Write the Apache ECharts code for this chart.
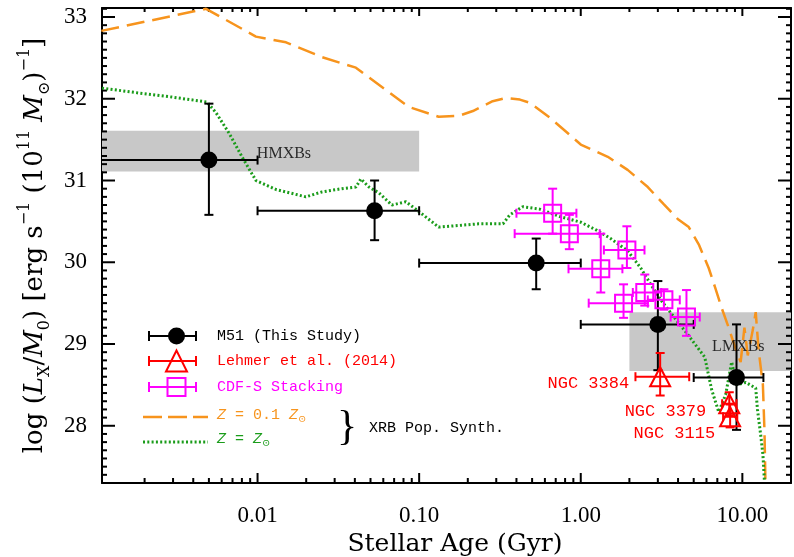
<!DOCTYPE html>
<html>
<head>
<meta charset="utf-8">
<script src="https://cdn.jsdelivr.net/npm/echarts@6/dist/echarts.min.js"></script>
<style>
html, body { margin: 0; padding: 0; background: #fff; }
#chart { width: 794px; height: 557px; }
</style>
</head>
<body>
<div id="chart"></div>
<script>
// ---------- axis ranges and tick labels ----------
const ageRange = [0.00109, 20];          // Gyr
const lumRange = [27.3, 33.11];          // log(Lx/M0)
const xTickValues = [0.01, 0.1, 1, 10];
const xTickLabels = ['0.01', '0.10', '1.00', '10.00'];
const yTickValues = [28, 29, 30, 31, 32, 33];
const yTickLabels = ['28', '29', '30', '31', '32', '33'];

// ---------- M51 (this study) ----------
const m51Age   = [0.005, 0.053, 0.53, 3.0, 9.2];
const m51AgeLo = [0.001, 0.01, 0.1, 1.0, 5.0];
const m51AgeHi = [0.01, 0.1, 1.0, 5.0, 13.5];
const m51Lum   = [31.25, 30.63, 29.99, 29.24, 28.59];
const m51LumLo = [30.58, 30.27, 29.67, 28.68, 27.95];
const m51LumHi = [31.94, 31.00, 30.29, 29.77, 29.24];

// ---------- Lehmer et al. (2014) ellipticals ----------
const lehmerNames = ['NGC 3384', 'NGC 3379', 'NGC 3115'];
const lehmerAge   = [3.1, 8.3, 8.4];
const lehmerAgeLo = [2.18, 7.5, 7.6];
const lehmerAgeHi = [4.69, 9.2, 9.3];
const lehmerLum   = [28.60, 28.27, 28.11];
const lehmerLumLo = [28.37, 28.13, 27.98];
const lehmerLumHi = [28.89, 28.41, 28.26];

// ---------- CDF-S stacking ----------
const cdfsAge   = [0.67, 0.85, 1.93, 1.33, 1.84, 2.49, 3.27, 4.51];
const cdfsAgeLo = [0.40, 0.39, 1.39, 0.84, 1.12, 2.10, 2.60, 3.60];
const cdfsAgeHi = [0.94, 1.31, 2.48, 1.81, 2.60, 3.15, 4.10, 5.45];
const cdfsLum   = [30.60, 30.35, 30.15, 29.92, 29.50, 29.63, 29.54, 29.33];
const cdfsLumLo = [30.35, 30.16, 29.93, 29.63, 29.32, 29.47, 29.42, 29.10];
const cdfsLumHi = [30.90, 30.58, 30.44, 30.35, 29.73, 29.85, 29.67, 29.66];

// ---------- XRB population synthesis tracks ----------
const lowZAge = [0.00108, 0.0048, 0.00977, 0.015, 0.025, 0.0406, 0.065, 0.0863, 0.132, 0.176,
                 0.215, 0.285, 0.344, 0.42, 0.484, 0.643, 0.819, 1.0, 1.47, 1.95,
                 2.6, 3.26, 3.98, 4.66, 5.37, 6.19, 6.79, 7.45, 8.23, 9.09,
                 9.76, 10.3, 10.8, 11.6, 12.1, 12.6, 13.4, 13.7, 13.9];
const lowZLum = [32.83, 33.1, 32.76, 32.69, 32.51, 32.38, 32.08, 31.9, 31.78, 31.79,
                 31.85, 31.97, 32.01, 31.99, 31.95, 31.77, 31.59, 31.44, 31.29, 31.13,
                 30.92, 30.71, 30.53, 30.43, 30.22, 29.93, 29.69, 29.44, 29.2, 28.94,
                 28.78, 29.2, 28.86, 29.17, 29.39, 28.93, 28.5, 27.95, 27.3];
const solarZAge = [0.00109, 0.00185, 0.00296, 0.00486, 0.00553, 0.00666, 0.00801, 0.00977, 0.013, 0.0199,
                   0.025, 0.0332, 0.0406, 0.0436, 0.0489, 0.0563, 0.0678, 0.0827, 0.0968, 0.132,
                   0.176, 0.234, 0.33, 0.364, 0.438, 0.557, 0.741, 1.0, 1.26, 1.53,
                   1.95, 2.35, 2.71, 3.15, 3.81, 4.62, 5.85, 6.46, 7.14, 7.88,
                   8.59, 9.22, 10.5, 12.1, 12.4, 13.0, 13.4, 13.7];
const solarZLum = [32.13, 32.07, 32.02, 31.96, 31.83, 31.58, 31.29, 31.0, 30.89, 30.8,
                   30.86, 30.9, 30.92, 31.02, 30.92, 30.85, 30.7, 30.74, 30.64, 30.43,
                   30.45, 30.47, 30.47, 30.58, 30.68, 30.65, 30.56, 30.49, 30.39, 30.29,
                   30.14, 29.93, 29.73, 29.53, 29.32, 29.11, 28.84, 28.44, 28.17, 28.38,
                   28.78, 28.5, 28.53, 28.46, 28.2, 27.88, 27.65, 27.32];

// ---------- shaded HMXB / LMXB regions ----------
const bandNames   = ['HMXBs', 'LMXBs'];
const bandAgeLo   = [0.001, 2.0];
const bandAgeHi   = [0.1, 20];
const bandLumLo   = [31.11, 28.67];
const bandLumHi   = [31.61, 29.39];
const bandTextAge = [0.0099, 6.5];
const bandTextLum = [31.33, 28.97];

// ---------- styling ----------
const C_ORANGE = '#f7941d';
const C_GREEN = '#1a9c1a';
const C_MAGENTA = '#ff00ff';
const C_RED = '#ff0000';
const SERIF = '"DejaVu Serif", "Liberation Serif", serif';
const TIMES = '"Liberation Serif", serif';
const MONO = '"Liberation Mono", "DejaVu Sans Mono", monospace';

const lg = Math.log10;
const xMin = lg(ageRange[0]), xMax = lg(ageRange[1]);

// tick positions (log10 of age on x)
const xMajor = xTickValues.map(lg);
const xMinor = [];
for (let d = -3; d <= 1; d++) {
  for (let k = 2; k <= 9; k++) {
    const v = d + lg(k);
    if (v > xMin && v < xMax) xMinor.push(v);
  }
}
const yMinor = [];
for (let i = Math.ceil(lumRange[0] * 10); i <= Math.floor(lumRange[1] * 10); i++) {
  if (i % 10 !== 0) yMinor.push(i / 10);
}

function xLabel(v) {
  const i = xMajor.findIndex(m => Math.abs(m - v) < 1e-6);
  return i >= 0 ? xTickLabels[i] : '';
}
function yLabel(v) {
  const i = yTickValues.findIndex(m => Math.abs(m - v) < 1e-6);
  return i >= 0 ? yTickLabels[i] : '';
}

function frameLine() {
  return { show: true, onZero: false, lineStyle: { color: '#000', width: 2 } };
}

const xAxes = [
  {
    type: 'value', min: xMin, max: xMax, position: 'bottom',
    axisLine: frameLine(), axisTick: { show: false }, splitLine: { show: false },
    axisLabel: {
      show: true, customValues: xMajor, formatter: xLabel, margin: 21,
      color: '#000', fontFamily: TIMES, fontSize: 23
    },
    name: 'Stellar Age (Gyr)', nameLocation: 'middle', nameGap: 39,
    nameTextStyle: { color: '#000', fontFamily: SERIF, fontSize: 25, padding: [0, 0, 0, 17] }
  },
  {
    type: 'value', min: xMin, max: xMax, position: 'top',
    axisLine: frameLine(), axisTick: { show: false }, splitLine: { show: false }, axisLabel: { show: false }
  }
];

const yBase = { fontFamily: SERIF, fontSize: 26, color: '#000', lineHeight: 36 };
const yAxes = [
  {
    type: 'value', min: lumRange[0], max: lumRange[1], position: 'left',
    axisLine: frameLine(), axisTick: { show: false }, splitLine: { show: false },
    axisLabel: {
      show: true, customValues: yTickValues, formatter: yLabel, margin: 15,
      color: '#000', fontFamily: TIMES, fontSize: 23
    },
    name: '{n|log (}{i|L}{sub|X}{n|/}{i|M}{sub|0}{n|) [erg s}{sup|−1}{n| (10}{sup|11}{n| }{i|M}{sub|⊙}{n|)}{sup|−1}{n|]}',
    nameLocation: 'middle', nameRotate: 90, nameGap: 42,
    nameTextStyle: {
      rich: {
        n: yBase,
        i: Object.assign({}, yBase, { fontStyle: 'italic' }),
        sub: Object.assign({}, yBase, { fontSize: 16, verticalAlign: 'bottom' }),
        sup: Object.assign({}, yBase, { fontSize: 16, verticalAlign: 'top' })
      }
    }
  },
  {
    type: 'value', min: lumRange[0], max: lumRange[1], position: 'right',
    axisLine: frameLine(), axisTick: { show: false }, splitLine: { show: false }, axisLabel: { show: false }
  }
];

// inward frame ticks, mapped through the same coordinate system as the data
function frameTicks(api) {
  const els = [];
  const seg = (x1, y1, x2, y2) => ({
    type: 'line', shape: { x1, y1, x2, y2 }, style: { stroke: '#000', lineWidth: 2 }
  });
  xMajor.concat(xMinor).forEach((v, i) => {
    const major = i < xMajor.length;
    const b = api.coord([v, lumRange[0]]);
    const t = api.coord([v, lumRange[1]]);
    els.push(seg(b[0], b[1], b[0], b[1] - (major ? 10 : 5)));
    els.push(seg(t[0], t[1], t[0], t[1] + (major ? 8 : 4)));
  });
  yTickValues.concat(yMinor).forEach((v, i) => {
    const major = i < yTickValues.length;
    const l = api.coord([xMin, v]);
    const r = api.coord([xMax, v]);
    els.push(seg(l[0], l[1], l[0] + (major ? 13 : 5), l[1]));
    els.push(seg(r[0], r[1], r[0] - (major ? 13 : 5), r[1]));
  });
  return els;
}

// error bars with end caps, drawn in data coordinates
function errorBars(name, color, age, ageLo, ageHi, lum, lumLo, lumHi) {
  return {
    type: 'custom', name, z: 3, clip: true,
    data: age.map((a, i) => [lg(a), lum[i], lg(ageLo[i]), lg(ageHi[i]), lumLo[i], lumHi[i]]),
    encode: { x: [0, 2, 3], y: [1, 4, 5] },
    renderItem(params, api) {
      const c = api.coord([api.value(0), api.value(1)]);
      const xl = api.coord([api.value(2), api.value(1)])[0];
      const xh = api.coord([api.value(3), api.value(1)])[0];
      const yl = api.coord([api.value(0), api.value(4)])[1];
      const yh = api.coord([api.value(0), api.value(5)])[1];
      const cap = 4.5;
      const seg = (x1, y1, x2, y2) => ({
        type: 'line', shape: { x1, y1, x2, y2 },
        style: { stroke: color, lineWidth: 2 }
      });
      return {
        type: 'group',
        children: [
          seg(xl, c[1], xh, c[1]),
          seg(xl, c[1] - cap, xl, c[1] + cap),
          seg(xh, c[1] - cap, xh, c[1] + cap),
          seg(c[0], yl, c[0], yh),
          seg(c[0] - cap, yl, c[0] + cap, yl),
          seg(c[0] - cap, yh, c[0] + cap, yh)
        ]
      };
    }
  };
}

// ---------- legend (drawn as graphic elements) ----------
const LX0 = 149, LX1 = 196, LXM = 176.5, LTX = 217;
function legendBar(y, color) {
  const st = () => ({ stroke: color, lineWidth: 2 });
  return [
    { type: 'line', shape: { x1: LX0, y1: y, x2: LX1, y2: y }, style: st() },
    { type: 'line', shape: { x1: LX0, y1: y - 5, x2: LX0, y2: y + 5 }, style: st() },
    { type: 'line', shape: { x1: LX1, y1: y - 5, x2: LX1, y2: y + 5 }, style: st() }
  ];
}
function legendText(x, y, text, color, rich) {
  return {
    type: 'text', x, y,
    style: { text, fill: color, font: '15px ' + MONO, verticalAlign: 'middle', align: 'left', rich }
  };
}
const zRich = (color) => ({
  it: { fontFamily: MONO, fontSize: 15, fontStyle: 'italic', fill: color, color },
  sub: { fontFamily: SERIF, fontSize: 10, fill: color, color, padding: [8, 0, 0, 0] }
});

const legendElements = [].concat(
  legendBar(336, '#000'),
  [{ type: 'circle', shape: { cx: LXM, cy: 336, r: 8.5 }, style: { fill: '#000' } },
   legendText(LTX, 336, 'M51 (This Study)', '#000')],
  legendBar(361, C_RED),
  [{ type: 'polygon', shape: { points: [[LXM, 350.5], [LXM - 10.5, 371.5], [LXM + 10.5, 371.5]] },
     style: { fill: 'none', stroke: C_RED, lineWidth: 2 } },
   legendText(LTX, 361, 'Lehmer et al. (2014)', C_RED)],
  legendBar(387, C_MAGENTA),
  [{ type: 'rect', shape: { x: LXM - 9, y: 378, width: 18, height: 18 },
     style: { fill: 'none', stroke: C_MAGENTA, lineWidth: 2 } },
   legendText(LTX, 387, 'CDF-S Stacking', C_MAGENTA)],
  [{ type: 'line', shape: { x1: 143, y1: 417, x2: 208, y2: 417 },
     style: { stroke: C_ORANGE, lineWidth: 2.5, lineDash: [19, 6] } },
   legendText(LTX, 415, '{it|Z} = 0.1 {it|Z}{sub|⊙}', C_ORANGE, zRich(C_ORANGE)),
   { type: 'line', shape: { x1: 143, y1: 442, x2: 208, y2: 442 },
     style: { stroke: C_GREEN, lineWidth: 3, lineDash: [2, 2.3] } },
   legendText(LTX, 439, '{it|Z} = {it|Z}{sub|⊙}', C_GREEN, zRich(C_GREEN)),
   { type: 'text', x: 347, y: 428,
     style: { text: '}', fill: '#000', font: '42px ' + TIMES, verticalAlign: 'middle', align: 'center' } },
   legendText(369, 428, 'XRB Pop. Synth.', '#000')]
);

const option = {
  animation: false,
  grid: { left: 102, right: 3, top: 8, bottom: 74, outerBoundsMode: 'none' },
  xAxis: xAxes,
  yAxis: yAxes,
  graphic: { elements: legendElements },
  series: [
    {
      // shaded source-class regions; the frame ticks are drawn with the last region
      type: 'custom', name: 'bands', z: 1,
      data: bandNames.map((n, i) => [lg(bandAgeLo[i]), lg(bandAgeHi[i]), bandLumLo[i], bandLumHi[i]]),
      encode: { x: [0, 1], y: [2, 3] },
      renderItem(params, api) {
        const lo = Math.max(api.value(0), xMin), hi = Math.min(api.value(1), xMax);
        const p0 = api.coord([lo, api.value(3)]);
        const p1 = api.coord([hi, api.value(2)]);
        const children = [{ type: 'rect', shape: { x: p0[0], y: p0[1], width: p1[0] - p0[0], height: p1[1] - p0[1] },
                            style: { fill: '#c8c8c8' } }];
        if (params.dataIndex === bandNames.length - 1) {
          children.push.apply(children, frameTicks(api));
        }
        return { type: 'group', children };
      }
    },
    {
      type: 'scatter', name: 'band labels', z: 6, symbolSize: 0,
      data: bandNames.map((n, i) => ({ value: [lg(bandTextAge[i]), bandTextLum[i]], name: n })),
      label: { show: true, position: 'right', distance: 0, formatter: '{b}',
               color: '#000', fontFamily: TIMES, fontSize: 16 }
    },
    {
      type: 'line', name: 'Z = 0.1 Zsun', z: 2, showSymbol: false,
      data: lowZAge.map((a, i) => [lg(a), lowZLum[i]]),
      lineStyle: { color: C_ORANGE, width: 2.5, type: [18, 8] }
    },
    {
      type: 'line', name: 'Z = Zsun', z: 2, showSymbol: false,
      data: solarZAge.map((a, i) => [lg(a), solarZLum[i]]),
      lineStyle: { color: C_GREEN, width: 3, type: [2, 2.3] }
    },
    errorBars('M51 errors', '#000', m51Age, m51AgeLo, m51AgeHi, m51Lum, m51LumLo, m51LumHi),
    errorBars('Lehmer errors', C_RED, lehmerAge, lehmerAgeLo, lehmerAgeHi, lehmerLum, lehmerLumLo, lehmerLumHi),
    errorBars('CDF-S errors', C_MAGENTA, cdfsAge, cdfsAgeLo, cdfsAgeHi, cdfsLum, cdfsLumLo, cdfsLumHi),
    {
      type: 'scatter', name: 'M51 (This Study)', z: 4, symbol: 'circle', symbolSize: 17,
      data: m51Age.map((a, i) => [lg(a), m51Lum[i]]),
      itemStyle: { color: '#000', opacity: 1 }
    },
    {
      type: 'scatter', name: 'Lehmer et al. (2014)', z: 4, symbol: 'triangle', symbolSize: [20, 19],
      data: lehmerAge.map((a, i) => ({
        value: [lg(a), lehmerLum[i]], name: lehmerNames[i],
        label: [
          { position: 'left', distance: 20, offset: [0, 7] },
          { position: 'left', distance: 12, offset: [0, 8] },
          { position: 'left', distance: 4, offset: [0, 17] }
        ][i]
      })),
      itemStyle: { color: 'rgba(0,0,0,0)', borderColor: C_RED, borderWidth: 2, opacity: 1 },
      label: { show: true, formatter: '{b}', color: C_RED, fontFamily: MONO, fontSize: 17 }
    },
    {
      type: 'scatter', name: 'CDF-S Stacking', z: 4, symbol: 'rect', symbolSize: 17,
      data: cdfsAge.map((a, i) => [lg(a), cdfsLum[i]]),
      itemStyle: { color: 'rgba(0,0,0,0)', borderColor: C_MAGENTA, borderWidth: 2, opacity: 1 }
    }
  ]
};

const chart = echarts.init(document.getElementById('chart'));
chart.setOption(option);
</script>
</body>
</html>
